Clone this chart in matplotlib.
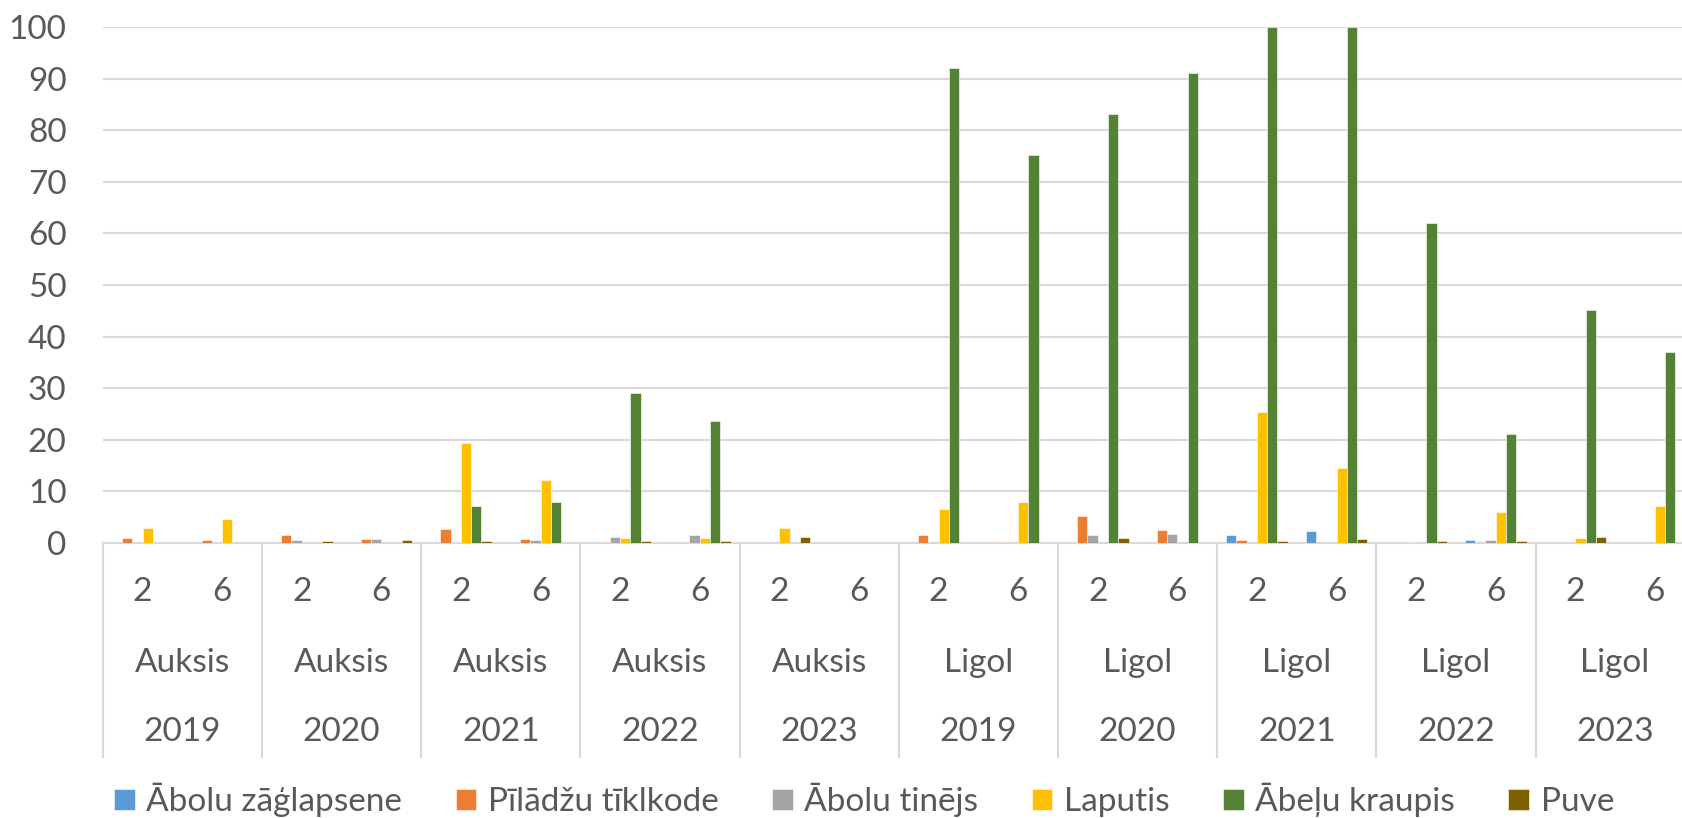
import numpy as np
import matplotlib.pyplot as plt
from matplotlib import transforms

# --- DATI ---
laiki = ["2", "6"] * 10
skirnes = ["Auksis"] * 5 + ["Ligol"] * 5
gadi = ["2019", "2020", "2021", "2022", "2023"] * 2

serijas = ["Ābolu zāģlapsene", "Pīlādžu tīklkode", "Ābolu tinējs",
           "Laputis", "Ābeļu kraupis", "Puve"]
krasas = ["#5B9BD5", "#ED7D31", "#A5A5A5", "#FFC000", "#548235", "#7F6000"]

zaglapsene = [0.1, 0, 0, 0, 0.1, 0.1, 0.1, 0, 0, 0, 0, 0, 0, 0, 1.6, 2.3, 0, 0.5, 0, 0]
tiklkode = [1.0, 0.5, 1.6, 0.7, 2.8, 0.8, 0.1, 0.2, 0, 0, 1.6, 0.2, 5.2, 2.6, 0.5, 0, 0, 0, 0, 0]
tinejs = [0, 0, 0.5, 0.8, 0.1, 0.65, 1.2, 1.6, 0, 0, 0, 0, 1.6, 1.8, 0, 0, 0.2, 0.5, 0, 0]
laputis = [3.0, 4.6, 0, 0, 19.4, 12.2, 1.0, 1.0, 3.0, 0, 6.6, 7.9, 0, 0, 25.3, 14.5, 0, 6.1, 1.0, 7.1]
kraupis = [0, 0, 0, 0, 7.2, 8.0, 29.1, 23.7, 0, 0, 92.1, 75.2, 83.2, 91.0, 100, 100, 62.1, 21.1, 45.2, 37.1]
puve = [0, 0, 0.3, 0.6, 0.4, 0, 0.45, 0.4, 1.2, 0, 0, 0, 1.0, 0, 0.4, 0.8, 0.4, 0.4, 1.2, 0]

vertibas = [zaglapsene, tiklkode, tinejs, laputis, kraupis, puve]

# --- GRAFIKS ---
plt.rcParams['font.family'] = ['Lato', 'DejaVu Sans']
teksta_krasa = "#595959"
linijas_krasa = "#D9D9D9"

W, H = 1683, 818
fig = plt.figure(figsize=(W / 100, H / 100), dpi=100)
ax = fig.add_axes([102.7 / W, 1 - 543 / H, 1592 / W, (543 - 27) / H])

x = np.arange(len(laiki))
platums = 0.129
for i, (nos, vals, kr) in enumerate(zip(serijas, vertibas, krasas)):
    ax.bar(x + (i - 2.5) * platums, vals, platums, color=kr, label=nos,
           edgecolor="white", linewidth=0.4, zorder=3)

ax.set_xlim(-0.5, len(laiki) - 0.5)
ax.set_ylim(0, 100)
ax.set_yticks(range(0, 101, 10))
ax.yaxis.grid(True, color=linijas_krasa, linewidth=1.5, zorder=0)
ax.tick_params(axis='y', length=0, pad=26, labelsize=24, labelcolor=teksta_krasa)
ax.set_xticks([])
for s in ["top", "right", "left"]:
    ax.spines[s].set_visible(False)
ax.spines["bottom"].set_color(linijas_krasa)
ax.spines["bottom"].set_linewidth(1.5)

# daudzlīmeņu kategoriju uzraksti
tr = transforms.blended_transform_factory(ax.transData, fig.transFigure)
for i, t in enumerate(laiki):
    ax.text(i, 1 - 592 / H, t, transform=tr, ha="center", va="center",
            fontsize=24, color=teksta_krasa)
for j in range(10):
    xc = 2 * j + 0.5
    ax.text(xc, 1 - 663 / H, skirnes[j], transform=tr, ha="center", va="center",
            fontsize=24, color=teksta_krasa)
    ax.text(xc, 1 - 732 / H, gadi[j], transform=tr, ha="center", va="center",
            fontsize=24, color=teksta_krasa)
for j in range(11):
    ax.plot([2 * j - 0.5] * 2, [1 - 543 / H, 1 - 757 / H], transform=tr,
            color=linijas_krasa, linewidth=1.5, clip_on=False)

leg = fig.legend(loc="center", bbox_to_anchor=(0.5134, 1 - 800 / H), ncol=6,
                 frameon=False, fontsize=24, handlelength=0.62, handleheight=0.62,
                 handletextpad=0.35, columnspacing=1.6)
for t in leg.get_texts():
    t.set_color(teksta_krasa)

fig.savefig("out.png", dpi=100)
